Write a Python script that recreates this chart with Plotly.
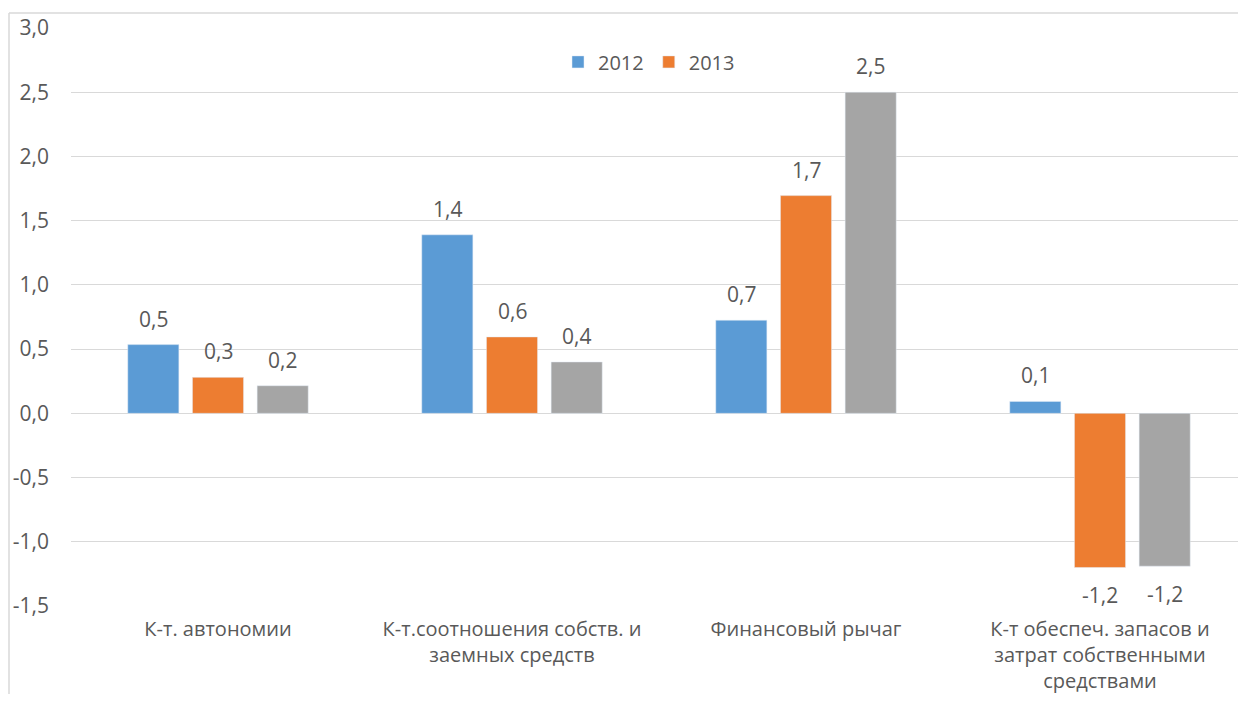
import plotly.graph_objects as go

categories = ["К-т. автономии", "К-т.соотношения собств. и<br>заемных средств",
              "Финансовый рычаг", "К-т обеспеч. запасов и<br>затрат собственными<br>средствами"]
series_names = ["2012", "2013", "2014"]
values_2012 = [0.535, 1.39, 0.725, 0.093]
values_2013 = [0.28, 0.595, 1.695, -1.20]
values_2014 = [0.215, 0.40, 2.50, -1.19]
labels_2012 = ["0,5", "1,4", "0,7", "0,1"]
labels_2013 = ["0,3", "0,6", "1,7", "-1,2"]
labels_2014 = ["0,2", "0,4", "2,5", "-1,2"]
colors = ["#5B9BD5", "#ED7D31", "#A5A5A5"]
show_legend = [True, True, False]
y_ticks = [-1.5, -1.0, -0.5, 0.0, 0.5, 1.0, 1.5, 2.0, 2.5, 3.0]
y_tick_text = ["-1,5", "-1,0", "-0,5", "0,0", "0,5", "1,0", "1,5", "2,0", "2,5", "3,0"]

all_vals = [values_2012, values_2013, values_2014]
all_labels = [labels_2012, labels_2013, labels_2014]

FONT = "Open Sans"
TXT = "#595959"

fig = go.Figure()
for name, vals, col, sl in zip(series_names, all_vals, colors, show_legend):
    fig.add_trace(go.Bar(x=categories, y=vals, name=name, marker_color=col,
                         showlegend=sl, hoverinfo="y"))

annotations = []
slot_px = 64.7
for i, (vals, labs) in enumerate(zip(all_vals, all_labels)):
    for cat, v, lab in zip(categories, vals, labs):
        annotations.append(dict(x=cat, y=v, text=lab, showarrow=False,
                                xref="x", yref="y",
                                xshift=(i - 1) * slot_px,
                                yshift=26 if v >= 0 else -28,
                                font=dict(family=FONT, size=21, color=TXT)))

# page has an 8px body margin; figure coords = page coords - 8
W, H = 1230, 686
L, R, T, B = 63, 0, 20, H - 600
pw = W - L - R
ph = H - T - B
cat_px = 294.0
x_range = [-0.5, -0.5 + pw / cat_px]
x_frame = (1 - L) / pw
y_frame = (H - 5 - B) / ph

fig.update_layout(
    width=W, height=H,
    margin=dict(l=L, r=R, t=T, b=B),
    paper_bgcolor="white", plot_bgcolor="white",
    barmode="group", bargap=0.34, bargroupgap=0.21,
    font=dict(family=FONT, size=20, color=TXT),
    legend=dict(orientation="h", x=(649 - 8 - L) / pw, xanchor="center",
                y=(600 - (62 - 8)) / ph, yanchor="middle",
                font=dict(family=FONT, size=20, color=TXT), bgcolor="rgba(0,0,0,0)",
                itemwidth=30, traceorder="normal"),
    xaxis=dict(range=x_range, showgrid=False, showline=False, ticks="",
               tickfont=dict(size=20), ticklabelstandoff=9),
    yaxis=dict(range=[-1.5, 3.0], tickvals=y_ticks, ticktext=y_tick_text,
               showgrid=True, gridcolor="#D9D9D9", gridwidth=1.3,
               zeroline=True, zerolinecolor="#D9D9D9", zerolinewidth=1.3,
               showline=False, ticks="", ticklabelstandoff=21,
               tickfont=dict(size=21)),
    annotations=annotations,
    shapes=[
        dict(type="line", xref="paper", yref="paper", x0=x_frame, x1=x_frame,
             y0=y_frame, y1=-(B + 5) / ph, line=dict(color="#D9D9D9", width=1.5)),
        dict(type="line", xref="paper", yref="paper", x0=x_frame, x1=1.01,
             y0=y_frame, y1=y_frame, line=dict(color="#D9D9D9", width=1.5)),
    ],
)

fig.write_html("out.html")
